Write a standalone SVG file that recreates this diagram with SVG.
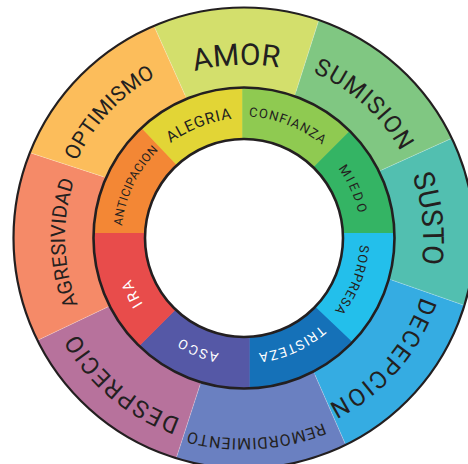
<svg xmlns="http://www.w3.org/2000/svg" width="468" height="464" viewBox="0 0 468 464">
<style>
text{font-family:Roboto,"DejaVu Sans",sans-serif;fill:#231f20}
.w{fill:#ffffff}
.ring{fill:none;stroke:#231f20}
.sep{stroke:#ffffff;stroke-opacity:0.35;stroke-width:0.8}
</style>
<defs>
<clipPath id="outerClip"><circle cx="244" cy="238" r="230.5"/></clipPath>
<clipPath id="innerClip"><circle cx="244" cy="238" r="150.5"/></clipPath>
<path id="pOPT" d="M378.6 363.5A184 184 0 1 1 109.4 112.5A184 184 0 1 1 378.6 363.5"/>
<path id="pAMOR" d="M251.5 410.8A173 173 0 1 1 236.5 65.2A173 173 0 1 1 251.5 410.8"/>
<path id="pSUM" d="M124.2 371A179 179 0 1 1 363.8 105A179 179 0 1 1 124.2 371"/>
<path id="pSUS" d="M66 256.8A179 179 0 1 1 422 219.2A179 179 0 1 1 66 256.8"/>
<path id="pDEC" d="M103.2 115.6A186.5 186.5 0 1 1 384.8 360.4A186.5 186.5 0 1 1 103.2 115.6"/>
<path id="pREM" d="M231.8 38.4A200 200 0 1 1 256.2 437.6A200 200 0 1 1 231.8 38.4"/>
<path id="pDES" d="M367.1 91.3A191.5 191.5 0 1 1 120.9 384.7A191.5 191.5 0 1 1 367.1 91.3"/>
<path id="pAGR" d="M423 233.3A179 179 0 1 1 65 242.7A179 179 0 1 1 423 233.3"/>
<path id="pALE" d="M287.9 348.9A119.3 119.3 0 1 1 200.1 127.1A119.3 119.3 0 1 1 287.9 348.9"/>
<path id="pCON" d="M200 350.7A121 121 0 1 1 288 125.3A121 121 0 1 1 200 350.7"/>
<path id="pMIE" d="M136.9 285.2A117 117 0 1 1 351.1 190.8A117 117 0 1 1 136.9 285.2"/>
<path id="pSOR" d="M135.9 195.9A116 116 0 1 1 352.1 280.1A116 116 0 1 1 135.9 195.9"/>
<path id="pTRI" d="M196.8 132A116 116 0 1 1 291.2 344A116 116 0 1 1 196.8 132"/>
<path id="pASC" d="M289.2 129A118 118 0 1 1 198.8 347A118 118 0 1 1 289.2 129"/>
<path id="pIRA" d="M352.1 185.3A120.3 120.3 0 1 1 135.9 290.7A120.3 120.3 0 1 1 352.1 185.3"/>
<path id="pANT" d="M354.3 291.3A122.5 122.5 0 1 1 133.7 184.7A122.5 122.5 0 1 1 354.3 291.3"/>
</defs>
<rect width="468" height="464" fill="#ffffff"/>
<g clip-path="url(#outerClip)">
<g id="amor"><polygon points="249,232 209.6,149.7 122.2,-44.7 342.6,-54.5 277.8,148.8" fill="#d3df6c"/></g>
<g id="sumision"><polygon points="249,232 277.8,148.8 342.6,-54.5 524.6,105.3 327,194.8" fill="#80c782"/></g>
<g id="susto"><polygon points="249,232 327,194.8 524.6,105.3 538.9,331.4 335,260.2" fill="#52bfb0"/></g>
<g id="decepcion"><polygon points="249,232 335,260.2 538.9,331.4 377.2,516.6 290.9,320" fill="#35ace2"/></g>
<g id="remordimiento"><polygon points="249,232 290.9,320 377.2,516.6 152,532.8 218.5,327.9" fill="#6a80c1"/></g>
<g id="desprecio"><polygon points="249,232 218.5,327.9 152,532.8 -33.9,374.4 162.5,280.9" fill="#b7729c"/></g>
<g id="agresividad"><polygon points="249,232 162.5,280.9 -33.9,374.4 -44.4,128.4 160.4,195.4" fill="#f58a68"/></g>
<g id="optimismo"><polygon points="249,232 160.4,195.4 -44.4,128.4 122.2,-44.7 209.6,149.7" fill="#fcbd5b"/></g>
<g class="sep">
<line x1="185" y1="95" x2="155" y2="28.3"/><line x1="296" y1="91.7" x2="318.3" y2="21.7"/>
<line x1="381.7" y1="170" x2="451.7" y2="138.3"/><line x1="391.7" y1="280" x2="463.3" y2="305"/>
<line x1="315" y1="375" x2="345" y2="443.3"/><line x1="200" y1="385" x2="176.7" y2="456.7"/>
<line x1="108.3" y1="306.7" x2="38.3" y2="340"/><line x1="103.3" y1="176.7" x2="31.7" y2="153.3"/>
</g>
</g>
<g clip-path="url(#innerClip)">
<g id="alegria"><polygon points="244,238 212.2,202.4 102,86.6 242.3,20 242.3,150" fill="#e2d536"/></g>
<g id="confianza"><polygon points="244,238 242.3,150 242.3,20 395.7,85 255.7,225" fill="#8fca51"/></g>
<g id="miedo"><polygon points="244,238 255.7,225 395.7,85 420,233 300,233" fill="#34b464"/></g>
<g id="sorpresa"><polygon points="244,238 300,233 420,233 375.2,363.8 266.6,260.5" fill="#23bfeb"/></g>
<g id="tristeza"><polygon points="244,238 266.6,260.5 375.2,363.8 249.5,430 249.5,320" fill="#1571b8"/></g>
<g id="asco"><polygon points="244,238 249.5,320 249.5,430 113.3,372 223.3,262" fill="#5558a6"/></g>
<g id="ira"><polygon points="244,238 223.3,262 113.3,372 70,233 190,233" fill="#e84c4b"/></g>
<g id="anticipacion"><polygon points="244,238 190,233 70,233 102,86.6 212.2,202.4" fill="#f38735"/></g>
</g>
<circle cx="244" cy="238" r="99" fill="#ffffff"/>
<g id="outlines">
<circle class="ring" cx="244" cy="238" r="230.5" stroke-width="2.2"/>
<circle class="ring" cx="244" cy="238" r="150.5" stroke-width="2.6"/>
<circle class="ring" cx="244" cy="238" r="99" stroke-width="2.6"/>
</g>
<g id="labels">
<text font-size="21" letter-spacing="0.3"><textPath href="#pOPT" startOffset="50%" text-anchor="middle">OPTIMISMO</textPath></text>
<text font-size="30"><textPath href="#pAMOR" startOffset="50%" text-anchor="middle">AMOR</textPath></text>
<text font-size="24" letter-spacing="1.2"><textPath href="#pSUM" startOffset="50%" text-anchor="middle">SUMISION</textPath></text>
<text font-size="29"><textPath href="#pSUS" startOffset="50%" text-anchor="middle">SUSTO</textPath></text>
<text font-size="24" letter-spacing="2"><textPath href="#pDEC" startOffset="50%" text-anchor="middle">DECEPCION</textPath></text>
<text font-size="16" letter-spacing="0.8"><textPath href="#pREM" startOffset="50%" text-anchor="middle">REMORDIMIENTO</textPath></text>
<text font-size="24" letter-spacing="1.35"><textPath href="#pDES" startOffset="50%" text-anchor="middle">DESPRECIO</textPath></text>
<text font-size="20" letter-spacing="0.2"><textPath href="#pAGR" startOffset="50%" text-anchor="middle">AGRESIVIDAD</textPath></text>
<text font-size="15.5" letter-spacing="0.8"><textPath href="#pALE" startOffset="50%" text-anchor="middle">ALEGRIA</textPath></text>
<text font-size="13" letter-spacing="1"><textPath href="#pCON" startOffset="50%" text-anchor="middle">CONFIANZA</textPath></text>
<text font-size="13" letter-spacing="2.5"><textPath href="#pMIE" startOffset="50%" text-anchor="middle">MIEDO</textPath></text>
<text font-size="13" letter-spacing="1"><textPath href="#pSOR" startOffset="50%" text-anchor="middle">SORPRESA</textPath></text>
<text class="w" font-size="13.5" letter-spacing="1.2"><textPath href="#pTRI" startOffset="50%" text-anchor="middle">TRISTEZA</textPath></text>
<text class="w" font-size="13.5" letter-spacing="2"><textPath href="#pASC" startOffset="50%" text-anchor="middle">ASCO</textPath></text>
<text class="w" font-size="15" letter-spacing="2.5"><textPath href="#pIRA" startOffset="50%" text-anchor="middle">IRA</textPath></text>
<text font-size="12" letter-spacing="0.5"><textPath href="#pANT" startOffset="50%" text-anchor="middle">ANTICIPACION</textPath></text>
</g>
</svg>
